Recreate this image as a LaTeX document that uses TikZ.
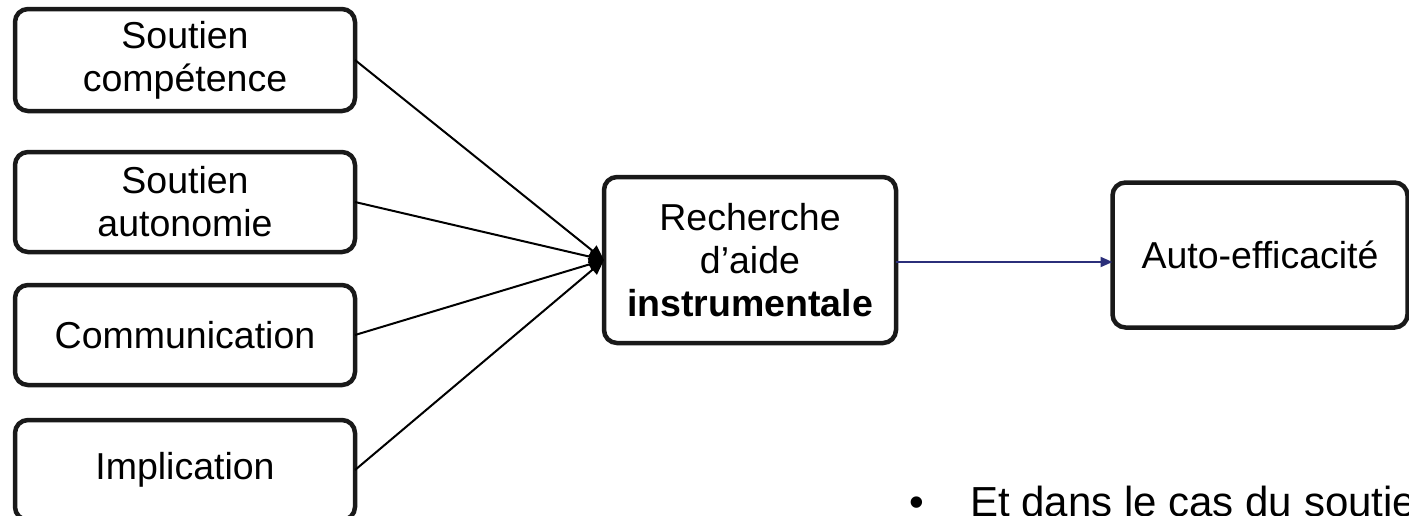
\documentclass[tikz,border=0pt]{standalone}
\usepackage{fontspec}
\setmainfont{Liberation Sans}
\usetikzlibrary{arrows.meta}
\definecolor{navy}{RGB}{43,47,122}
\begin{document}
\begin{tikzpicture}[x=1pt,y=-1pt,
  box/.style={draw=black!90, line width=4.5pt, rounded corners=13pt, align=center,
    font=\fontsize{37.5}{43}\selectfont, inner sep=0pt, outer sep=0pt},
  conn/.style={line width=2pt, -{Triangle[length=15pt,width=13pt]}},
  bluearrow/.style={draw=navy, line width=2pt, -{Triangle[length=12pt,width=10pt]}, color=navy}]
\useasboundingbox (0,0) rectangle (1409,515);
\clip (0,0) rectangle (1409,515);
\node[box, minimum width=340pt, minimum height=102pt] (b1) at (185,60) {Soutien\\compétence};
\node[box, minimum width=340pt, minimum height=100pt] (b2) at (185,202) {Soutien\\autonomie};
\node[box, minimum width=340pt, minimum height=100pt] (b3) at (185,335) {Communication};
\node[box, minimum width=340pt, minimum height=100pt] (b4) at (185,470) {Implication};
\node[box, minimum width=292pt, minimum height=166pt] (c) at (750,260) {Recherche\\d’aide\\\textbf{instrumentale}};
\node[box, minimum width=295pt, minimum height=145pt] (r) at (1260,255) {Auto-efficacité};
\foreach \b in {b1,b2,b3,b4} \draw[conn] (\b.east) -- (c.west);
\draw[bluearrow] (c.east |- 0,262) -- (r.west |- 0,262);
\node[font=\fontsize{42}{48}\selectfont, inner sep=0pt, anchor=base] (bul) at (917,516) {•};
\node[font=\fontsize{42}{48}\selectfont, inner sep=0pt, anchor=base west] (t) at (970,516) {Et dans le cas du soutien};
\end{tikzpicture}
\end{document}
